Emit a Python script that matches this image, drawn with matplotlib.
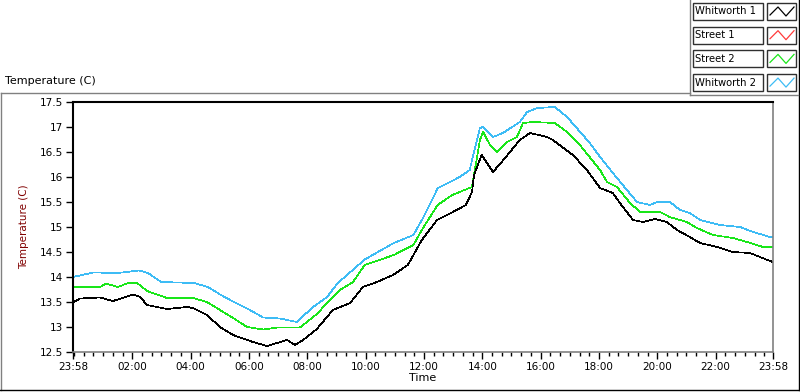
import matplotlib
matplotlib.use("Agg")
import matplotlib.pyplot as plt
from matplotlib.lines import Line2D
from matplotlib.patches import Rectangle

# hours after 23:58, values in degrees C
whit1_h = [0, 0.24, 0.93, 1.37, 2.06, 2.30, 2.54, 3.22, 3.91, 4.11, 4.59, 5.04, 5.49, 6.17,
           6.65, 7.34, 7.61, 7.89, 8.36, 8.91, 9.50, 9.94, 10.42, 10.97, 11.48, 11.96, 12.48,
           12.96, 13.47, 13.68, 13.75, 14.01, 14.40, 14.74, 15.32, 15.67, 16.25, 16.45, 17.14,
           17.62, 18.07, 18.51, 18.75, 19.20, 19.54, 19.95, 20.36, 20.71, 21.15, 21.50, 22.08,
           22.63, 23.21, 23.90, 24]
whit1_t = [13.49, 13.57, 13.59, 13.52, 13.65, 13.60, 13.44, 13.36, 13.40, 13.38, 13.24, 13.00,
           12.84, 12.70, 12.62, 12.74, 12.64, 12.74, 12.96, 13.34, 13.48, 13.80, 13.90, 14.04,
           14.24, 14.74, 15.14, 15.28, 15.44, 15.70, 16.04, 16.44, 16.10, 16.33, 16.74, 16.88,
           16.80, 16.74, 16.44, 16.14, 15.78, 15.68, 15.48, 15.14, 15.10, 15.16, 15.10, 14.94,
           14.80, 14.68, 14.60, 14.50, 14.48, 14.32, 14.30]

# Street 1 is not visible in the picture (hidden), only in the legend
street2_h = [0, 0.93, 1.13, 1.54, 1.89, 2.20, 2.54, 3.22, 4.11, 4.59, 5.04, 5.49, 5.97, 6.52,
             7.00, 7.78, 8.36, 8.81, 9.15, 9.60, 10.0, 11.0, 11.67, 12.0, 12.5, 13.0, 13.68,
             13.95, 14.06, 14.30, 14.54, 14.88, 15.22, 15.43, 15.77, 16.52, 16.94, 17.38, 18.07,
             18.31, 18.65, 19.10, 19.44, 20.12, 20.46, 21.05, 21.39, 21.94, 22.63, 23.11, 23.66, 24]
street2_t = [13.80, 13.80, 13.87, 13.80, 13.88, 13.88, 13.72, 13.58, 13.58, 13.50, 13.34, 13.18,
             13.00, 12.95, 12.99, 12.99, 13.26, 13.54, 13.74, 13.90, 14.24, 14.44, 14.64, 14.98,
             15.44, 15.64, 15.80, 16.74, 16.90, 16.64, 16.50, 16.70, 16.80, 17.08, 17.10, 17.08,
             16.90, 16.64, 16.14, 15.90, 15.80, 15.48, 15.30, 15.30, 15.20, 15.10, 14.98, 14.84,
             14.78, 14.70, 14.60, 14.60]

whit2_h = [0, 0.70, 1.54, 2.26, 2.57, 3.02, 4.15, 4.63, 5.07, 5.52, 5.97, 6.52, 7.10, 7.67,
           8.23, 8.71, 9.08, 10.0, 11.0, 11.67, 12.0, 12.51, 13.26, 13.60, 13.95, 14.06, 14.40,
           14.74, 15.32, 15.57, 15.91, 16.52, 16.94, 17.72, 18.07, 18.51, 18.99, 19.34, 19.78,
           20.02, 20.47, 20.81, 21.15, 21.50, 22.18, 22.87, 23.32, 23.90, 24]
whit2_t = [14.00, 14.09, 14.08, 14.13, 14.08, 13.90, 13.88, 13.80, 13.64, 13.50, 13.37, 13.19,
           13.17, 13.10, 13.40, 13.60, 13.88, 14.35, 14.68, 14.84, 15.18, 15.78, 16.00, 16.14,
           16.98, 17.00, 16.80, 16.88, 17.10, 17.30, 17.38, 17.40, 17.20, 16.68, 16.40, 16.08,
           15.74, 15.50, 15.44, 15.50, 15.50, 15.34, 15.28, 15.14, 15.04, 15.00, 14.90, 14.80, 14.80]

names = ['Whitworth 1', 'Street 1', 'Street 2', 'Whitworth 2']
colors = ['#000000', '#ff3b3b', '#19e619', '#3dbcf5']

xtick_pos = [0] + [2 + 2 / 60 + 2 * k for k in range(11)] + [24]
xtick_lab = ['23:58', '02:00', '04:00', '06:00', '08:00', '10:00', '12:00', '14:00',
             '16:00', '18:00', '20:00', '22:00', '23:58']
ytick_pos = [12.5, 13, 13.5, 14, 14.5, 15, 15.5, 16, 16.5, 17, 17.5]
ytick_lab = ['12.5', '13', '13.5', '14', '14.5', '15', '15.5', '16', '16.5', '17', '17.5']

W, H = 800, 392
fig = plt.figure(figsize=(W / 100, H / 100), dpi=100)
fig.patch.set_facecolor('white')


def fx(x):
    return x / W


def fy(y):
    return 1 - y / H


def pline(xs, ys, color, lw=1.0, aa=True):
    fig.add_artist(Line2D([fx(v) for v in xs], [fy(v) for v in ys], color=color,
                          lw=lw, transform=fig.transFigure, antialiased=aa))


ax = fig.add_axes([fx(73), fy(352), fx(773) - fx(73), fy(102) - fy(352)])

ax.plot(street2_h, street2_t, color=colors[2], lw=0.5, antialiased=False)
ax.plot(whit2_h, whit2_t, color=colors[3], lw=0.5, antialiased=False)
ax.plot(whit1_h, whit1_t, color=colors[0], lw=0.5, antialiased=False)

ax.set_xlim(0, 24)
ax.set_ylim(12.5, 17.5)
ax.set_xticks(xtick_pos)
ax.set_xticklabels(xtick_lab)
ax.set_xticks([2 / 60 + k / 3 for k in range(72)], minor=True)
ax.set_yticks(ytick_pos)
ax.set_yticklabels(ytick_lab)
ax.tick_params(axis='x', which='major', length=5, width=1, labelsize=7.5, pad=2, colors='black')
ax.tick_params(axis='x', which='minor', length=3, width=1, colors='black')
ax.tick_params(axis='y', which='major', length=5, width=1, labelsize=7.5, pad=2, colors='black')
ax.tick_params(axis='y', which='minor', left=False)
ax.spines['top'].set_color('black')
ax.spines['left'].set_color('black')
ax.spines['top'].set_linewidth(1.5)
ax.spines['left'].set_linewidth(1.5)
ax.spines['right'].set_color('#808080')
ax.spines['bottom'].set_color('#808080')
ax.spines['right'].set_linewidth(1.2)
ax.spines['bottom'].set_linewidth(1.2)
ax.set_xlabel('Time', fontsize=8, labelpad=1)
ax.set_ylabel('Temperature (C)', fontsize=7.5, color='#800000', labelpad=8)

# outer frame
pline([0.5, 690], [92.5, 92.5], '#808080')
pline([0.8, 0.8], [92.5, 390], '#808080')
pline([0, 799], [390, 390], 'black')
pline([798.5, 798.5], [0, 390], 'black')
pline([690, 690], [0, 95], '#808080')
pline([690, 798], [95, 95], '#808080')

fig.text(fx(5), fy(81), 'Temperature (C)', fontsize=8, va='center', ha='left')

# legend
for i, (nm, col) in enumerate(zip(names, colors)):
    top = 3 + i * 23.7
    bot = top + 17
    fig.add_artist(Rectangle((fx(693), fy(bot)), fx(763) - fx(693), fy(top) - fy(bot),
                             transform=fig.transFigure, facecolor='white',
                             edgecolor='#303030', lw=1.0))
    fig.text(fx(695), fy((top + bot) / 2), nm, fontsize=7.2, va='center', ha='left')
    fig.add_artist(Rectangle((fx(767), fy(bot)), fx(796) - fx(767), fy(top) - fy(bot),
                             transform=fig.transFigure, facecolor='white',
                             edgecolor='#303030', lw=1.0))
    zx = [770, 778, 786, 794]
    zy = [bot - 5, top + 4, bot - 4, top + 4]
    pline(zx, zy, col, lw=0.9)

fig.savefig('out.png', dpi=100)
